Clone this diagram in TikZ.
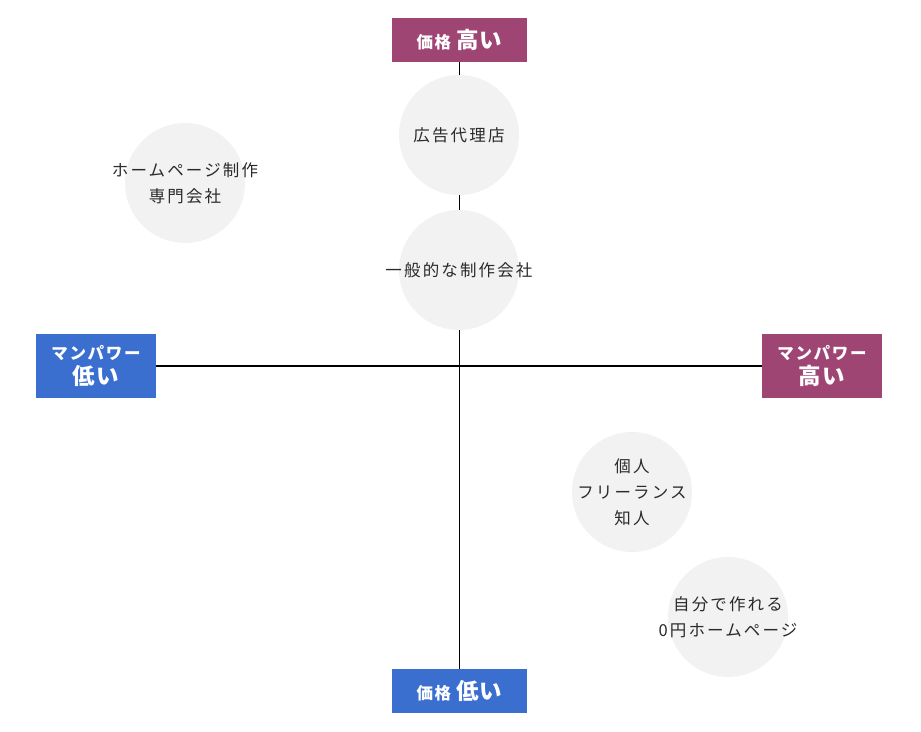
\documentclass[tikz,border=0pt]{standalone}
\usepackage{fontspec}
\setmainfont{Noto Sans CJK JP}
\definecolor{highc}{HTML}{9E4573}
\definecolor{lowc}{HTML}{3A6FCF}
\definecolor{circc}{HTML}{F2F2F2}
\definecolor{textc}{HTML}{2A2A2A}
\begin{document}
\begin{tikzpicture}[x=1pt, y=-1pt]
\useasboundingbox (0,0) rectangle (921,731);
\tikzset{
  axbox/.style={rectangle, text=white, align=center, inner sep=0pt, font=\bfseries},
  pricebox/.style={axbox, minimum width=135pt, minimum height=44pt},
  manbox/.style={axbox, minimum width=120pt, minimum height=64pt},
  posi/.style={circle, fill=circc, minimum size=120pt, inner sep=0pt},
  posilabel/.style={align=center, text=textc, inner sep=0pt,
    font=\fontsize{16.5pt}{26pt}\selectfont\addfontfeatures{LetterSpace=13}},
}
\newcommand{\smalltxt}{\fontsize{16.5pt}{22pt}\selectfont\addfontfeatures{LetterSpace=10}}
\newcommand{\bigtxt}{\fontsize{22.5pt}{28pt}\selectfont\addfontfeatures{LetterSpace=6}}
% axis labels
\node[pricebox, fill=highc] (ph) at (459.5,40) {\smalltxt 価格\hspace{5pt}\bigtxt 高い};
\node[pricebox, fill=lowc] (pl) at (459.5,691) {\smalltxt 価格\hspace{5pt}\bigtxt 低い};
\node[manbox, fill=lowc] (ml) at (96,366) {\smalltxt マンパワー\\[3pt]\bigtxt 低い};
\node[manbox, fill=highc] (mh) at (822,366) {\smalltxt マンパワー\\[3pt]\bigtxt 高い};
% axes
\draw[line width=1.3pt] (ph) -- (pl);
\draw[line width=1.3pt] (ml) -- (mh);
% positions
\node[posi] (ad) at (459,135) {};
\node[posi] (gen) at (459,270) {};
\node[posi] (spec) at (185,183) {};
\node[posi] (ind) at (632,492) {};
\node[posi] (self) at (728,617) {};
\node[posilabel] (adt) at (ad) {広告代理店};
\node[posilabel] (gent) at (gen) {一般的な制作会社};
\node[posilabel] (spect) at (spec) {ホームページ制作\\専門会社};
\node[posilabel] (indt) at (ind) {個人\\フリーランス\\知人};
\node[posilabel] (selft) at (self) {自分で作れる\\0円ホームページ};
\end{tikzpicture}
\end{document}
